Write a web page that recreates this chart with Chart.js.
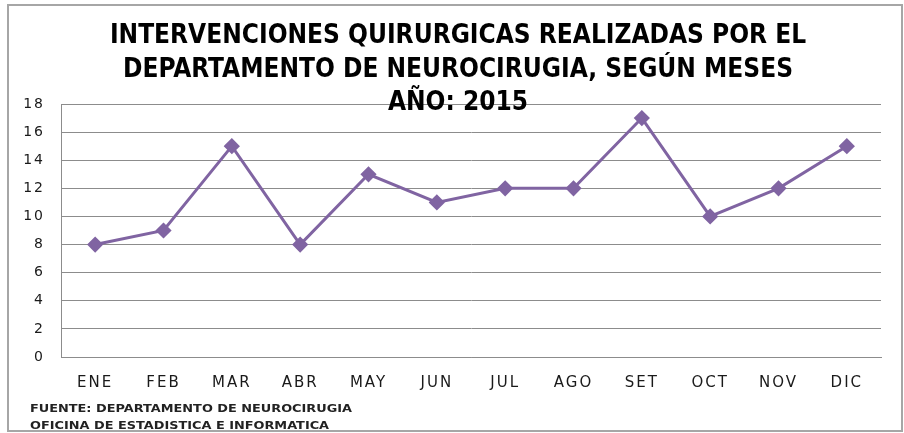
<!DOCTYPE html>
<html>
<head>
<meta charset="utf-8">
<script src="https://cdn.jsdelivr.net/npm/chart.js@4/dist/chart.umd.min.js"></script>
<style>
  html, body { margin: 0; padding: 0; background: #fff; }
  #wrap { width: 904px; height: 433px; position: relative; }
</style>
</head>
<body>
<div id="wrap"><canvas id="chart"></canvas></div>
<script>
// Chart data
const meses = ['ENE', 'FEB', 'MAR', 'ABR', 'MAY', 'JUN', 'JUL', 'AGO', 'SET', 'OCT', 'NOV', 'DIC'];
const intervenciones = [8, 9, 15, 8, 13, 11, 12, 12, 17, 10, 12, 15];
const titulo = [
    'INTERVENCIONES QUIRURGICAS REALIZADAS POR EL',
    'DEPARTAMENTO DE NEUROCIRUGIA, SEGÚN MESES',
    'AÑO: 2015'
];
const fuente = [
    'FUENTE: DEPARTAMENTO DE NEUROCIRUGIA',
    'OFICINA DE ESTADISTICA E INFORMATICA'
];

// the tick labels in the original are set wide, open the letters a little
const spacingPlugin = {
    id: 'spacing',
    beforeDraw(chart) {
        chart.ctx.letterSpacing = '2px';
    }
};

// border, title and footer drawn on top of the plot
const decoPlugin = {
    id: 'deco',
    afterDraw(chart) {
        const ctx = chart.ctx;
        ctx.letterSpacing = '0px';
        ctx.save();
        ctx.strokeStyle = '#a6a6a6';
        ctx.lineWidth = 2;
        ctx.strokeRect(8, 5, 894, 426);

        ctx.fillStyle = '#000';
        ctx.textAlign = 'center';
        ctx.textBaseline = 'middle';
        ctx.font = 'bold 26px "Liberation Sans Narrow", "DejaVu Sans Condensed", sans-serif';
        const ys = [36, 70, 103];
        titulo.forEach((t, i) => ctx.fillText(t, 458, ys[i]));

        // footer is stretched sideways like in the source image
        ctx.textAlign = 'left';
        ctx.font = 'bold 10px "DejaVu Sans", sans-serif';
        ctx.fillStyle = '#222';
        const w = ctx.measureText(fuente[0]).width;
        ctx.translate(30, 0);
        ctx.scale(322 / w, 1);
        ctx.fillText(fuente[0], 0, 409);
        ctx.fillText(fuente[1], 0, 426);
        ctx.restore();
    }
};

new Chart(document.getElementById('chart'), {
    type: 'line',
    data: {
        labels: meses,
        datasets: [{
            data: intervenciones,
            borderColor: '#8064a2',
            backgroundColor: '#8064a2',
            borderWidth: 3,
            pointStyle: 'rectRot',
            pointRadius: 6,
            pointHoverRadius: 6,
            tension: 0
        }]
    },
    options: {
        responsive: true,
        maintainAspectRatio: false,
        animation: false,
        layout: { padding: { top: 104, right: 23, left: 0, bottom: 0 } },
        plugins: {
            legend: { display: false },
            title: { display: false },
            tooltip: { enabled: false }
        },
        scales: {
            x: {
                offset: true,
                grid: { display: false, drawTicks: false },
                border: { color: '#8c8c8c', width: 1 },
                ticks: {
                    color: '#1a1a1a',
                    padding: 17,
                    font: { family: '"DejaVu Sans", sans-serif', size: 15 }
                },
                afterFit: (scale) => { scale.height = 76; }
            },
            y: {
                min: 0,
                max: 18,
                ticks: {
                    stepSize: 2,
                    color: '#1a1a1a',
                    padding: 16,
                    font: { family: '"DejaVu Sans", sans-serif', size: 14 }
                },
                grid: { color: '#8c8c8c', drawTicks: false },
                border: { color: '#8c8c8c', width: 1 },
                afterFit: (scale) => { scale.width = 61; }
            }
        }
    },
    plugins: [spacingPlugin, decoPlugin]
});
</script>
</body>
</html>
